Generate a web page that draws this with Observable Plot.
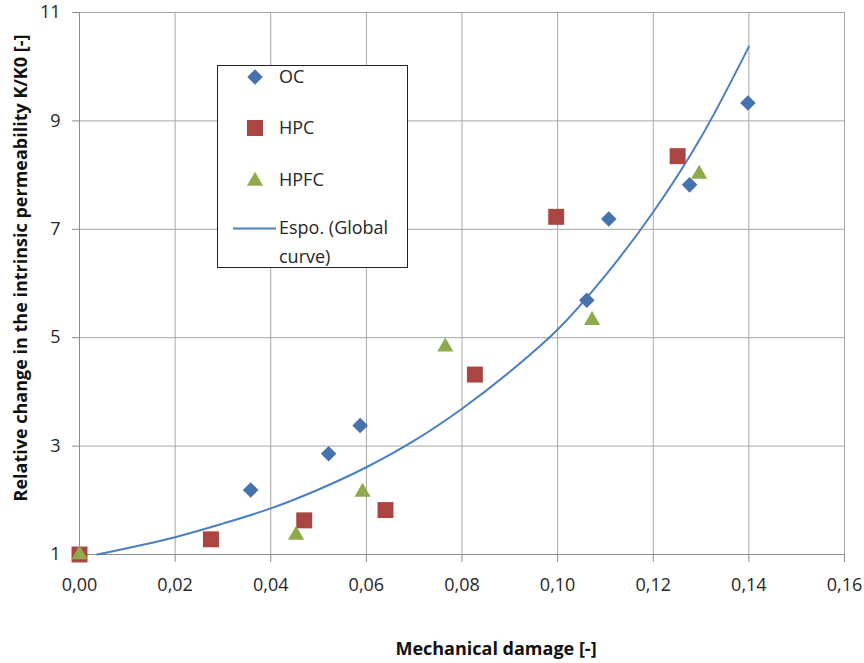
<!DOCTYPE html>
<html>
<head>
<meta charset="utf-8">
<script src="https://cdn.jsdelivr.net/npm/d3@7"></script>
<script src="https://cdn.jsdelivr.net/npm/@observablehq/plot@0.6"></script>
<style>
  html, body { margin: 0; padding: 0; background: #fff; }
  #chart { width: 864px; height: 663px; overflow: hidden; }
  svg { font-family: "Open Sans", sans-serif; }
</style>
</head>
<body>
<div id="chart"></div>
<script>
// ---- data ----
const ocX   = [0.0358, 0.0521, 0.0587, 0.1061, 0.1107, 0.1276, 0.1398];
const ocY   = [2.19,   2.86,   3.38,   5.69,   7.19,   7.82,   9.33];
const hpcX  = [0.0000, 0.0275, 0.0470, 0.0640, 0.0827, 0.0997, 0.1251];
const hpcY  = [1.00,   1.28,   1.63,   1.82,   4.32,   7.23,   8.35];
const hpfcX = [0.0000, 0.0453, 0.0592, 0.0765, 0.1072, 0.1296];
const hpfcY = [1.00,   1.36,   2.15,   4.83,   5.32,   8.02];
// exponential trend line ("Espo. (Global curve)")
const curveX = [0.0037, 0.02, 0.03, 0.04, 0.05, 0.06, 0.07, 0.08, 0.09, 0.10, 0.11, 0.12, 0.13, 0.14];
const curveY = [1.00,   1.32, 1.57, 1.85, 2.20, 2.61, 3.10, 3.69, 4.37, 5.15, 6.15, 7.32, 8.70, 10.37];
const xTicks = [0, 0.02, 0.04, 0.06, 0.08, 0.10, 0.12, 0.14, 0.16];
const yTicks = [1, 3, 5, 7, 9, 11];
const seriesNames = ["OC", "HPC", "HPFC"];
const lineName = ["Espo. (Global", "curve)"];
const xTitle = "Mechanical damage [-]";
const yTitle = "Relative change in the intrinsic permeability K/K0 [-]";

const colors = {OC: "#4673ab", HPC: "#ab4543", HPFC: "#8eab4c", line: "#4a7fc0"};
const zip = (xs, ys) => xs.map((x, i) => ({x, y: ys[i]}));
const oc = zip(ocX, ocY), hpc = zip(hpcX, hpcY), hpfc = zip(hpfcX, hpfcY);
const curve = zip(curveX, curveY);
const fmtX = d => d.toFixed(2).replace(".", ",");

const gridColor = "#a6a6a6";
const chart = Plot.plot({
  width: 864,
  height: 663,
  marginLeft: 79,
  marginRight: 20,
  marginTop: 12,
  marginBottom: 109,
  style: {fontFamily: "Open Sans, sans-serif", fontSize: "18px", color: "#262626", background: "#fff"},
  x: {domain: [0, 0.16]},
  y: {domain: [1, 11]},
  marks: [
    Plot.gridX(xTicks, {stroke: gridColor, strokeOpacity: 1}),
    Plot.gridY(yTicks, {stroke: gridColor, strokeOpacity: 1}),
    Plot.axisX(xTicks, {tickSize: 8, tickPadding: 16, tickFormat: fmtX, stroke: "#8c8c8c", label: null, fontSize: 18}),
    Plot.axisY(yTicks, {tickSize: 7, tickPadding: 12, tickFormat: d => String(d), stroke: "#8c8c8c", label: null, fontSize: 18}),
    Plot.ruleX([0], {stroke: "#8c8c8c"}),
    Plot.ruleY([1], {stroke: "#8c8c8c"}),
    Plot.line(curve, {x: "x", y: "y", stroke: colors.line, strokeWidth: 2, curve: "catmull-rom"}),
    Plot.dot(oc, {x: "x", y: "y", symbol: "diamond2", r: 7, fill: colors.OC, stroke: "none"}),
    Plot.dot(hpc, {x: "x", y: "y", symbol: "square", r: 9, fill: colors.HPC, stroke: "none"}),
    Plot.dot(hpfc, {x: "x", y: "y", symbol: "triangle", r: 6, fill: colors.HPFC, stroke: "none"})
  ]
});
document.getElementById("chart").appendChild(chart);

// titles and legend
const svg = d3.select(chart);
svg.append("text")
  .attr("transform", "translate(27,268) rotate(-90)")
  .attr("text-anchor", "middle")
  .attr("font-size", 18).attr("font-weight", "bold").attr("fill", "#111")
  .text(yTitle);
svg.append("text")
  .attr("x", 496).attr("y", 655)
  .attr("text-anchor", "middle")
  .attr("font-size", 18).attr("font-weight", "bold").attr("fill", "#111")
  .text(xTitle);

const lg = svg.append("g").attr("text-anchor", "start");
lg.append("rect").attr("x", 217.5).attr("y", 65.5).attr("width", 190).attr("height", 202)
  .attr("fill", "#fff").attr("stroke", "#222").attr("stroke-width", 1);
const sym = (type, size, color, cx, cy) =>
  lg.append("path").attr("d", d3.symbol(type, size)()).attr("transform", `translate(${cx},${cy})`).attr("fill", color);
sym(d3.symbolDiamond2, Math.PI * 49, colors.OC, 255, 77);
sym(d3.symbolSquare, Math.PI * 81, colors.HPC, 255, 128);
sym(d3.symbolTriangle, Math.PI * 36, colors.HPFC, 255, 181);
lg.append("path").attr("d", "M233,228.5H276")
  .attr("stroke", colors.line).attr("stroke-width", 2).attr("fill", "none");
const lt = (txt, y) => lg.append("text").attr("x", 279).attr("y", y).attr("dy", "0.35em")
  .attr("text-anchor", "start")
  .attr("font-size", 18).attr("fill", "#262626").text(txt);
lt(seriesNames[0], 77);
lt(seriesNames[1], 128);
lt(seriesNames[2], 180);
lt(lineName[0], 228);
lt(lineName[1], 257);
</script>
</body>
</html>
